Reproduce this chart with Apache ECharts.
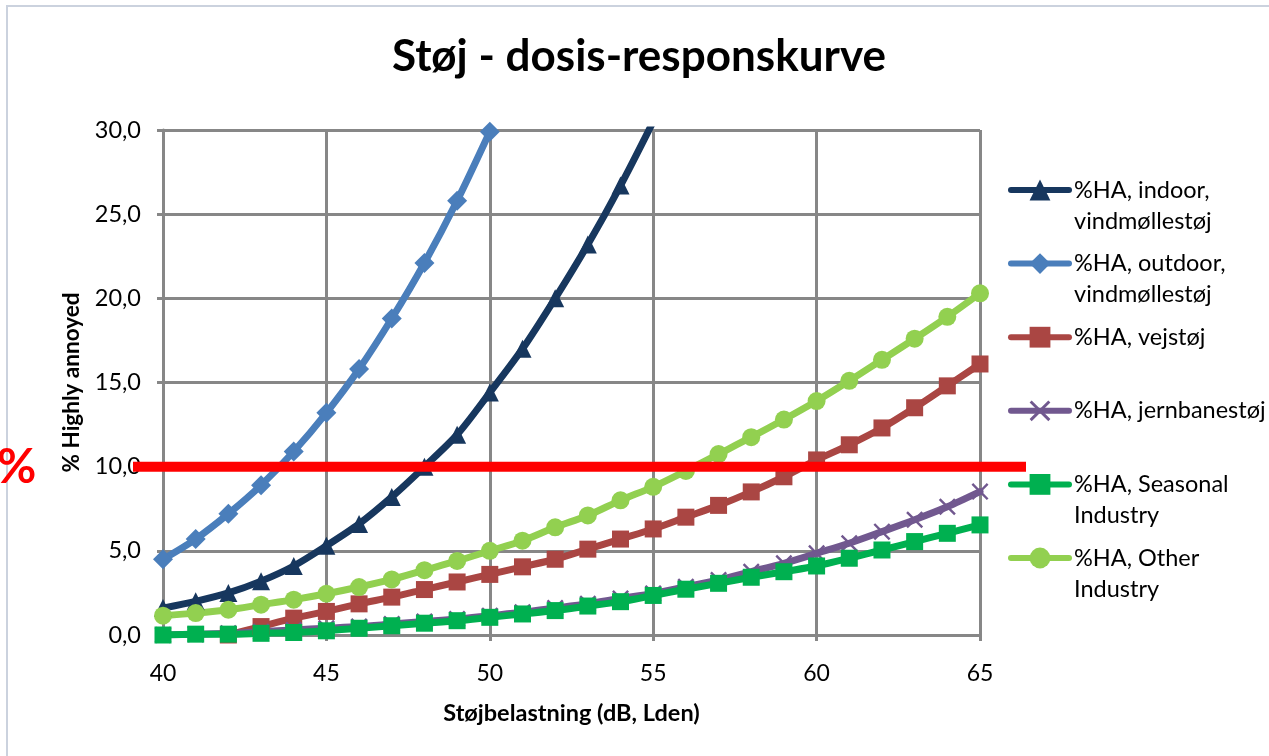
<!DOCTYPE html>
<html><head><meta charset="utf-8">
<script src="https://cdn.jsdelivr.net/npm/echarts@6/dist/echarts.min.js"></script>
<style>html,body{margin:0;padding:0;background:#fff}#c{width:1269px;height:756px}</style>
</head><body><div id="c"></div>
<script>
// ---- data ----
const dB = [40,41,42,43,44,45,46,47,48,49,50,51,52,53,54,55,56,57,58,59,60,61,62,63,64,65];
const seriesNames = ['%HA, indoor, vindmøllestøj','%HA, outdoor, vindmøllestøj','%HA, vejstøj','%HA, jernbanestøj','%HA, Seasonal Industry','%HA, Other Industry'];
const legendLabels = ['%HA, indoor,\nvindmøllestøj','%HA, outdoor,\nvindmøllestøj','%HA, vejstøj','%HA, jernbanestøj','%HA, Seasonal\nIndustry','%HA, Other\nIndustry'];
const indoor   = [1.6,2.0,2.5,3.2,4.1,5.3,6.6,8.2,10.0,11.9,14.4,17.0,20.0,23.2,26.7,30.5];
const outdoor  = [4.5,5.7,7.2,8.9,10.9,13.2,15.8,18.8,22.1,25.8,29.9];
const vejstoej = [null,null,0.0,0.5,1.0,1.4,1.85,2.25,2.7,3.15,3.6,4.05,4.5,5.1,5.7,6.3,7.0,7.7,8.5,9.4,10.4,11.3,12.3,13.5,14.8,16.1];
const jernbane = [0.0,0.05,0.1,0.2,0.3,0.4,0.5,0.65,0.8,0.95,1.15,1.35,1.6,1.86,2.17,2.47,2.87,3.27,3.76,4.26,4.85,5.45,6.14,6.85,7.62,8.52];
const seasonal = [0.0,0.05,0.05,0.1,0.15,0.25,0.4,0.55,0.7,0.85,1.05,1.25,1.45,1.72,1.98,2.35,2.72,3.07,3.43,3.76,4.1,4.56,5.05,5.55,6.04,6.54];
const other    = [1.15,1.3,1.5,1.8,2.1,2.45,2.85,3.3,3.85,4.4,5.0,5.6,6.4,7.1,8.0,8.8,9.75,10.75,11.75,12.8,13.9,15.1,16.35,17.6,18.9,20.3];
const xTicks = [40,45,50,55,60,65];
const yTicks = [0,5,10,15,20,25,30];
const threshold = 10;

const values = [indoor, outdoor, vejstoej, jernbane, seasonal, other];
const colors = ['#17375E','#4A7EBB','#AA4643','#71588F','#00B050','#92D050'];
const symbols = ['triangle','diamond','rect','path://M0,1 L1,0 L5,4 L9,0 L10,1 L6,5 L10,9 L9,10 L5,6 L1,10 L0,9 L4,5 Z','rect','circle'];
const symSizes = [18,20,17,17,17,18];

function toPairs(arr){ return dB.map((x,i)=>[x, arr[i]]).filter(p=>p[1]!=null); }

const FONT = 'Lato';
const GRID = '#878787';
const LH = 31;

const chart = echarts.init(document.getElementById('c'), null, {renderer:'canvas'});
const series = seriesNames.map((n,i)=>({
  name:n, type:'line', smooth:0.3, data:toPairs(values[i]),
  symbol:symbols[i], symbolSize:symSizes[i], showSymbol:true,
  itemStyle:{color:colors[i]},
  lineStyle:{color:colors[i], width:7, cap:'round', join:'round'},
  emphasis:{disabled:true}, animation:false, clip:true
}));

chart.setOption({
  backgroundColor:'#ffffff',
  animation:false,
  title:{
    text:'Støj - dosis-responskurve', left:392, top:35, padding:0,
    textStyle:{fontFamily:FONT, fontWeight:'bold', fontSize:44, color:'#000'}
  },
  legend:{
    orient:'vertical', left:1008, top:190-1.5*LH, padding:0, itemGap:73.6-3*LH,
    itemWidth:58, itemHeight:26,
    lineStyle:{width:6, cap:'round'},
    data: seriesNames,
    formatter: n => {
      const t = legendLabels[seriesNames.indexOf(n)];
      // pad to three lines so that the first text line sits level with the icon
      return t.indexOf('\n')>=0 ? ' \n'+t : ' \n'+t+'\n ';
    },
    textStyle:{fontFamily:FONT, fontSize:23.5, color:'#000', lineHeight:LH},
    selectedMode:false
  },
  grid:{left:163, top:130, width:817, height:505, containLabel:false, outerBoundsMode:'none'},
  xAxis:{
    type:'value', min:xTicks[0], max:xTicks[xTicks.length-1], interval:5,
    name:'Støjbelastning (dB, Lden)', nameLocation:'middle', nameGap:66,
    nameTextStyle:{fontFamily:FONT, fontWeight:'bold', fontSize:23.5, color:'#000'},
    axisLine:{show:true, onZero:false, lineStyle:{color:GRID, width:3}},
    axisTick:{show:true, inside:false, length:6, lineStyle:{color:GRID, width:3}},
    axisLabel:{fontFamily:FONT, fontSize:23, color:'#000', margin:27},
    splitLine:{show:true, lineStyle:{color:GRID, width:3}}
  },
  yAxis:{
    type:'value', min:yTicks[0], max:yTicks[yTicks.length-1], interval:5,
    name:'% Highly annoyed', nameLocation:'middle', nameRotate:90, nameGap:80,
    nameTextStyle:{fontFamily:FONT, fontWeight:'bold', fontSize:22.5, color:'#000'},
    axisLine:{show:true, lineStyle:{color:GRID, width:3}},
    axisTick:{show:true, inside:false, length:6, lineStyle:{color:GRID, width:3}},
    axisLabel:{fontFamily:FONT, fontSize:23.5, color:'#000', margin:22, formatter:v=>v.toFixed(1).replace('.',',')},
    splitLine:{show:true, lineStyle:{color:GRID, width:3}}
  },
  series: series
});

const yRef = chart.convertToPixel({yAxisIndex:0}, threshold);
chart.setOption({
  graphic:[
    {type:'rect', z:-1, silent:true, shape:{x:7, y:6, width:1400, height:900}, style:{fill:null, stroke:'#CBD2DE', lineWidth:2}},
    {type:'line', z:100, silent:true, shape:{x1:133, y1:yRef, x2:1026, y2:yRef}, style:{stroke:'#FF0000', lineWidth:10}},
    {type:'text', z:100, silent:true, x:-3, y:yRef+1, style:{text:'%', fill:'#FF0000', font:'bold 48px Lato', verticalAlign:'middle', align:'left'}}
  ]
});
</script></body></html>
